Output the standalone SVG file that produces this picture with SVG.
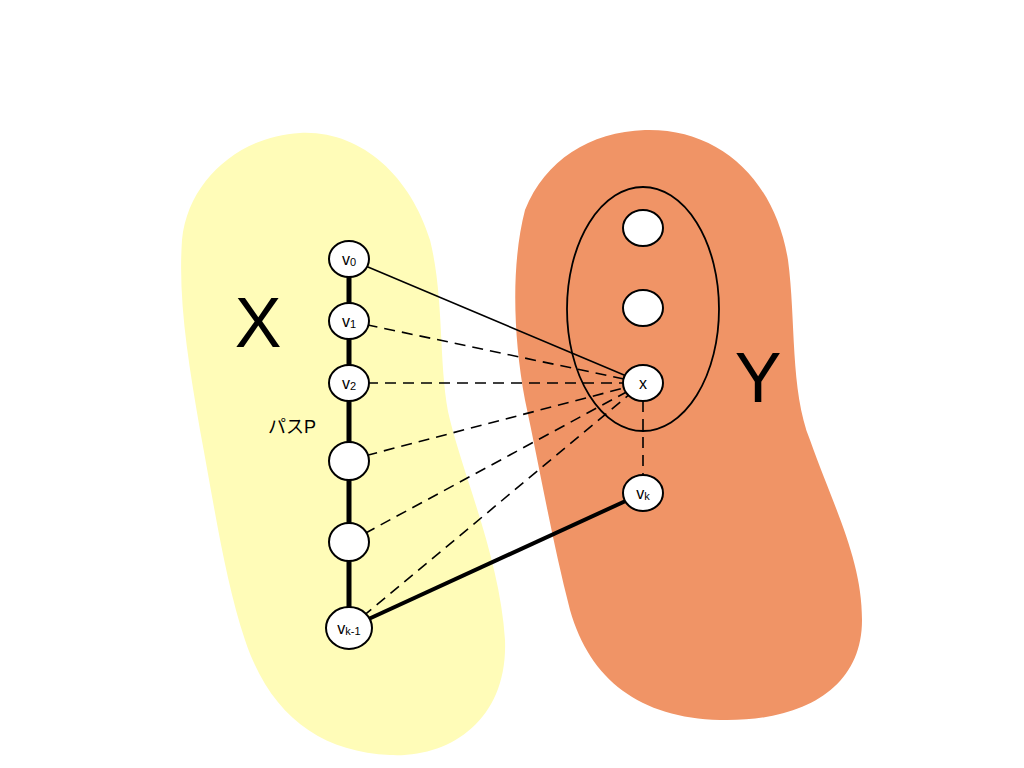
<svg xmlns="http://www.w3.org/2000/svg" width="1024" height="768" viewBox="0 0 1024 768">
<style>
.node{fill:#fff;stroke:#000;stroke-width:2}
.lbl{font-family:"Liberation Sans",Arial,sans-serif;font-size:16px;text-anchor:middle;fill:#000}
.sub{font-size:11px}
.dash{stroke:#000;stroke-width:1.6;stroke-dasharray:11 7;fill:none}
.big{font-family:"Liberation Sans",Arial,sans-serif;font-size:70px;text-anchor:middle;fill:#000}
</style>
<rect width="1024" height="768" fill="#fff"/>
<g id="setX">
<path d="M300,133 C360,130 410,175 430,240 C445,300 438,370 450,420 C465,480 500,560 505,640 C508,720 450,758 390,755 C320,752 270,715 245,640 C225,580 215,510 200,430 C188,360 178,300 182,240 C188,180 240,136 300,133 Z" fill="#fffcb8"/>
<text class="big" x="258" y="347">X</text>
</g>
<g id="setY">
<path d="M645,130 C720,128 775,180 788,260 C796,320 790,390 810,440 C835,510 862,560 862,620 C862,690 800,722 720,720 C640,718 590,680 570,610 C552,540 540,470 525,400 C512,330 512,260 525,210 C545,160 590,132 645,130 Z" fill="#f09466"/>
<text class="big" x="758" y="402">Y</text>
</g>
<g id="connectors">
<line x1="349" y1="259" x2="349" y2="628" stroke="#000" stroke-width="5"/>
<line x1="349" y1="259" x2="643" y2="383" stroke="#000" stroke-width="1.6"/>
<line class="dash" x1="349" y1="321" x2="643" y2="383"/>
<line class="dash" x1="349" y1="383" x2="643" y2="383"/>
<line class="dash" x1="349" y1="460" x2="643" y2="383"/>
<line class="dash" x1="349" y1="542" x2="643" y2="383"/>
<line class="dash" x1="349" y1="628" x2="643" y2="383"/>
<line class="dash" x1="643" y1="383" x2="643" y2="493"/>
<line x1="349" y1="628" x2="643" y2="493" stroke="#000" stroke-width="4"/>
</g>
<g id="group">
<ellipse cx="643" cy="309" rx="76" ry="122" fill="none" stroke="#000" stroke-width="1.8"/>
</g>
<g id="v0"><ellipse class="node" cx="349" cy="259" rx="20" ry="18"/><text class="lbl" x="349" y="265">v<tspan class="sub" dy="1">0</tspan></text></g>
<g id="v1"><ellipse class="node" cx="349" cy="321" rx="20" ry="18"/><text class="lbl" x="349" y="327">v<tspan class="sub" dy="1">1</tspan></text></g>
<g id="v2"><ellipse class="node" cx="349" cy="383" rx="20" ry="18"/><text class="lbl" x="349" y="389">v<tspan class="sub" dy="1">2</tspan></text></g>
<g id="v3"><ellipse class="node" cx="349" cy="461" rx="20" ry="19"/></g>
<g id="v4"><ellipse class="node" cx="349" cy="542" rx="20" ry="19"/></g>
<g id="vk1"><ellipse class="node" cx="349" cy="628" rx="23" ry="21"/><text class="lbl" x="349" y="634">v<tspan class="sub" dy="1">k-1</tspan></text></g>
<g id="y1"><ellipse class="node" cx="643" cy="228" rx="20" ry="18"/></g>
<g id="y2"><ellipse class="node" cx="643" cy="308" rx="20" ry="18"/></g>
<g id="x"><ellipse class="node" cx="643" cy="383" rx="20" ry="18"/><text class="lbl" x="643" y="389">x</text></g>
<g id="vk"><ellipse class="node" cx="643" cy="493" rx="20" ry="18"/><text class="lbl" x="643" y="499">v<tspan class="sub" dy="1">k</tspan></text></g>
<g id="pathLabel"><text x="292" y="433" font-family="'Liberation Sans','Noto Sans CJK JP',sans-serif" font-size="18" text-anchor="middle">パスP</text></g>
</svg>
